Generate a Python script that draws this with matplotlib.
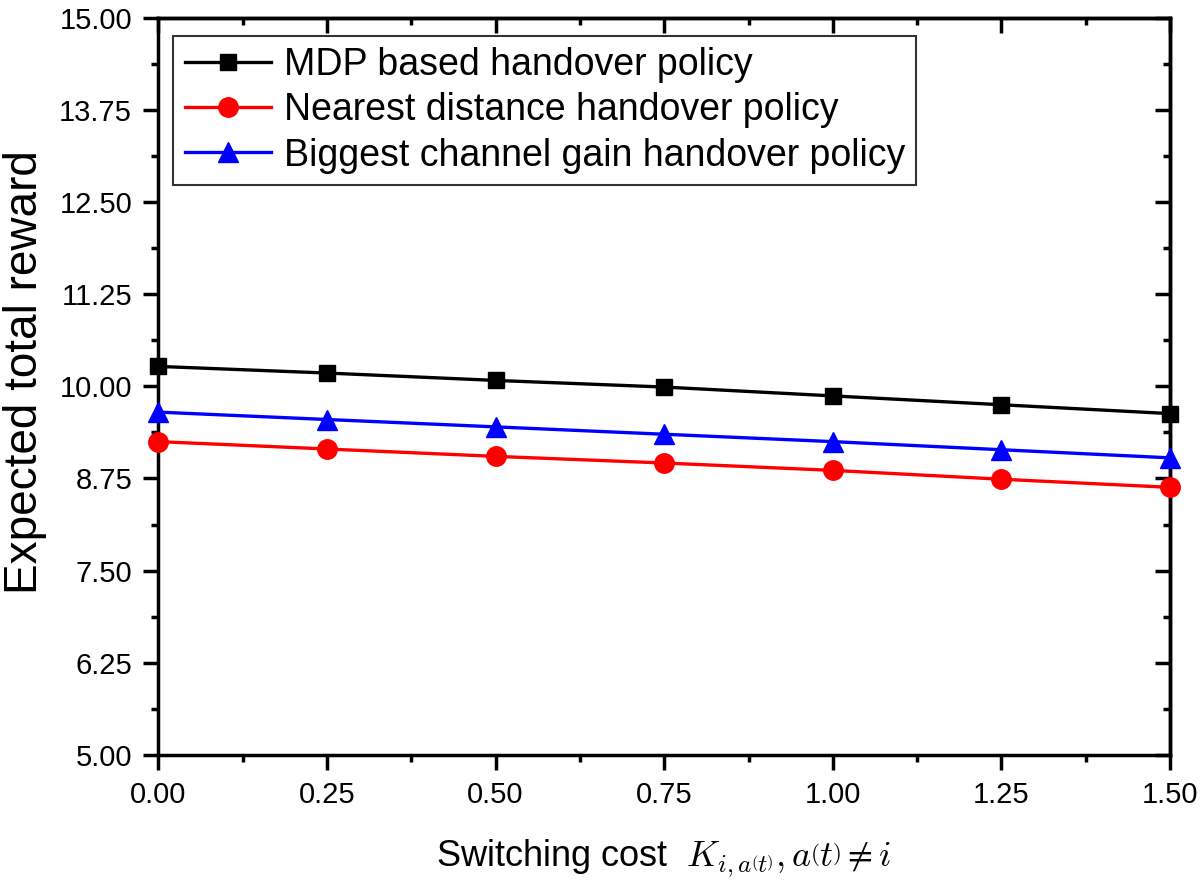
import numpy as np
import matplotlib.pyplot as plt
from matplotlib.ticker import MultipleLocator

plt.rcParams['font.family'] = ['Liberation Sans', 'DejaVu Sans']
plt.rcParams['mathtext.fontset'] = 'cm'

# switching cost values and expected total reward per policy
cost = [0.0, 0.25, 0.5, 0.75, 1.0, 1.25, 1.5]
mdp = [10.27, 10.18, 10.08, 9.99, 9.87, 9.75, 9.63]
nearest = [9.25, 9.15, 9.05, 8.96, 8.86, 8.74, 8.63]
biggest = [9.65, 9.55, 9.45, 9.35, 9.25, 9.14, 9.03]
labels = ['MDP based handover policy', 'Nearest distance handover policy',
          'Biggest channel gain handover policy']

fig = plt.figure(figsize=(12, 8.81), dpi=100)
ax = fig.add_axes([0.132, 0.143, 0.843, 0.837])

ax.plot(cost, mdp, color='black', marker='s', markersize=12, lw=2.4, label=labels[0], clip_on=False, zorder=3)
ax.plot(cost, nearest, color='red', marker='o', markersize=14, lw=2.4, label=labels[1], clip_on=False, zorder=3)
ax.plot(cost, biggest, color='blue', marker='^', markersize=14, lw=2.4, label=labels[2], clip_on=False, zorder=3)

ax.set_xlim(0, 1.5)
ax.set_ylim(5, 15)
ax.xaxis.set_major_locator(MultipleLocator(0.25))
ax.xaxis.set_minor_locator(MultipleLocator(0.125))
ax.yaxis.set_major_locator(MultipleLocator(1.25))
ax.yaxis.set_minor_locator(MultipleLocator(0.625))
ax.xaxis.set_major_formatter(plt.FormatStrFormatter('%.2f'))
ax.yaxis.set_major_formatter(plt.FormatStrFormatter('%.2f'))

for s in ax.spines.values():
    s.set_linewidth(2.5)
ax.tick_params(which='both', direction='out', width=2.5, labelsize=21, top=False, right=False)
ax.tick_params(which='major', length=11, pad=8)
ax.tick_params(which='minor', length=5)

# inward ticks on top and right
sec_x = ax.secondary_xaxis('top')
sec_x.xaxis.set_major_locator(MultipleLocator(0.25))
sec_x.xaxis.set_minor_locator(MultipleLocator(0.125))
sec_x.tick_params(which='both', direction='in', width=2.5, labeltop=False)
sec_x.tick_params(which='major', length=11)
sec_x.tick_params(which='minor', length=5)
sec_x.spines['top'].set_linewidth(2.5)
sec_y = ax.secondary_yaxis('right')
sec_y.yaxis.set_major_locator(MultipleLocator(1.25))
sec_y.yaxis.set_minor_locator(MultipleLocator(0.625))
sec_y.tick_params(which='both', direction='in', width=2.5, labelright=False)
sec_y.tick_params(which='major', length=11)
sec_y.tick_params(which='minor', length=5)
sec_y.spines['right'].set_linewidth(2.5)

ax.set_ylabel('Expected total reward', fontsize=33)
ax.yaxis.set_label_coords(-0.110, 0.52)
ax.set_xlabel(r'Switching cost  $K_{i,a\left(t\right)}, a\left(t\right) \neq i$', fontsize=26, labelpad=20)

leg = ax.legend(loc='upper left', bbox_to_anchor=(0.0148, 0.9756), fontsize=27, frameon=True,
                fancybox=False, edgecolor='black', handlelength=2.3, borderpad=0.3,
                labelspacing=0.25, handletextpad=0.35, borderaxespad=0)
leg.get_frame().set_linewidth(1.5)

fig.savefig('out.png', dpi=100)
